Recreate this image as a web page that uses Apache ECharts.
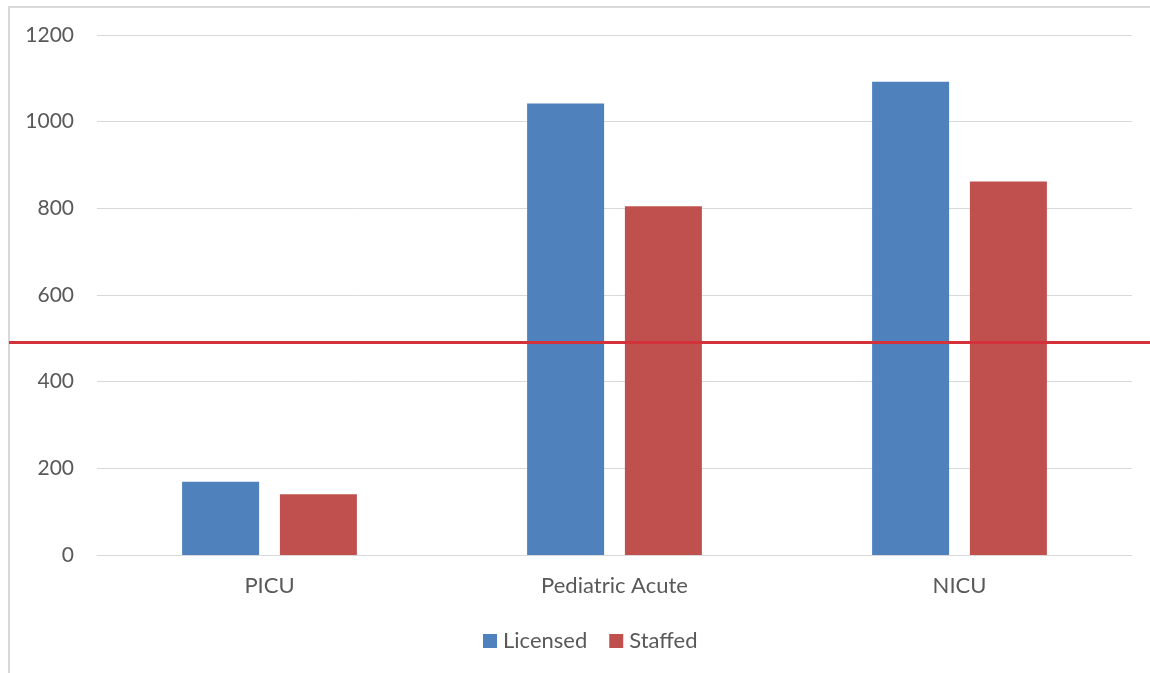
<!DOCTYPE html>
<html>
<head>
<meta charset="utf-8">
<script src="https://cdn.jsdelivr.net/npm/echarts@6/dist/echarts.min.js"></script>
<style>
  html, body { margin: 0; padding: 0; background: #ffffff; }
  #frame {
    position: absolute; left: 8px; top: 6px; width: 1200px; height: 720px;
    border-left: 2px solid #d9d9d9; border-top: 2px solid #d9d9d9;
  }
  #chart { position: absolute; left: 0; top: 0; width: 1150px; height: 673px; }
</style>
</head>
<body>
<div id="frame"></div>
<div id="chart"></div>
<script>
// Bed counts by unit type
const categories = ['PICU', 'Pediatric Acute', 'NICU'];
const licensed = [169, 1042, 1092];
const staffed = [140, 805, 862];
const yTicks = { min: 0, max: 1200, interval: 200 };
// Horizontal reference level
const referenceLevel = 490;

const labelColor = '#595959';
const gridColor = '#d9d9d9';
const fontFamily = 'Lato, "Open Sans", sans-serif';

const chart = echarts.init(document.getElementById('chart'), null, { renderer: 'canvas' });

chart.setOption({
  animation: false,
  textStyle: { fontFamily: fontFamily },
  legend: {
    bottom: 16,
    left: 478,
    itemWidth: 14,
    itemHeight: 14,
    itemGap: 22,
    icon: 'rect',
    textStyle: { color: labelColor, fontSize: 22, fontFamily: fontFamily, padding: [0, 0, 0, 1] },
    data: ['Licensed', 'Staffed']
  },
  grid: [
    { left: 97, right: 18, top: 35, bottom: 118, containLabel: false },
    { left: 9, right: 0, top: 35, bottom: 118, containLabel: false }
  ],
  xAxis: [
    {
      type: 'category',
      gridIndex: 0,
      data: categories,
      axisLine: { lineStyle: { color: gridColor, width: 1 } },
      axisTick: { show: false },
      axisLabel: { color: labelColor, fontSize: 22, margin: 20, fontFamily: fontFamily }
    },
    { type: 'value', gridIndex: 1, min: 0, max: 1, show: false }
  ],
  yAxis: [
    {
      type: 'value',
      gridIndex: 0,
      min: yTicks.min,
      max: yTicks.max,
      interval: yTicks.interval,
      axisLine: { show: false },
      axisTick: { show: false },
      splitLine: { lineStyle: { color: gridColor, width: 1 } },
      axisLabel: {
        color: labelColor, fontSize: 21, margin: 23, fontFamily: fontFamily,
        formatter: (v) => String(v)
      }
    },
    { type: 'value', gridIndex: 1, min: yTicks.min, max: yTicks.max, show: false }
  ],
  series: [
    {
      name: 'Licensed',
      type: 'bar',
      xAxisIndex: 0,
      yAxisIndex: 0,
      data: licensed,
      barWidth: 77,
      barGap: '27%',
      itemStyle: { color: '#4f81bd' }
    },
    {
      name: 'Staffed',
      type: 'bar',
      xAxisIndex: 0,
      yAxisIndex: 0,
      data: staffed,
      barWidth: 77,
      barGap: '27%',
      itemStyle: { color: '#c0504d' }
    },
    {
      name: 'reference',
      type: 'line',
      xAxisIndex: 1,
      yAxisIndex: 1,
      data: [],
      z: 5,
      markLine: {
        silent: true,
        symbol: 'none',
        label: { show: false },
        lineStyle: { color: '#d3323a', width: 3, type: 'solid' },
        data: [{ yAxis: referenceLevel }]
      }
    }
  ]
});
</script>
</body>
</html>
